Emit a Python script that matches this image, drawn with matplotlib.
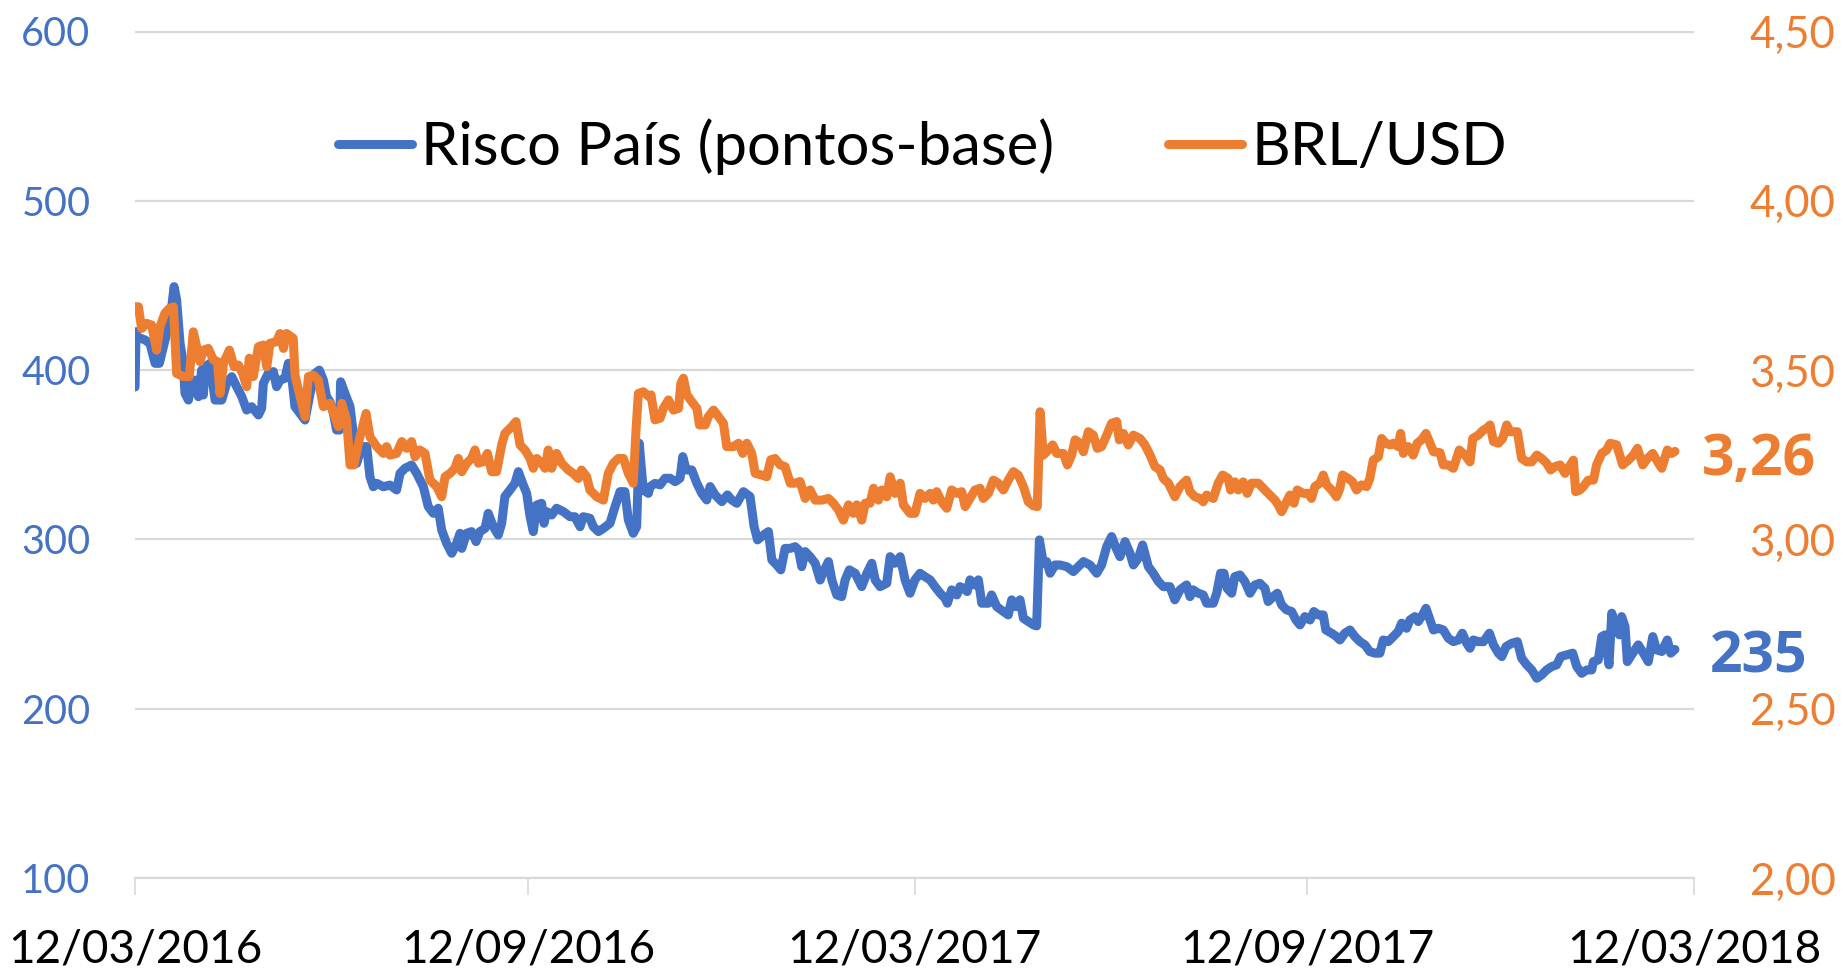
import matplotlib
matplotlib.use("Agg")
import matplotlib.pyplot as plt
import matplotlib.dates as mdates
from matplotlib.ticker import FuncFormatter
import numpy as np
import pandas as pd

plt.rcParams['font.family'] = ['Lato', 'DejaVu Sans']

START = '2016-03-12'

# Risco País (pontos-base): days since START, value
risco_days = [0, 0.5, 0.8, 4.7, 7.0, 9.4, 11.4, 13.3, 15.6, 17.2, 18.3, 19.5, 21.1, 22.6, 23.4, 25.0, 26.5, 28.1,
              29.7, 31.2, 32.0, 32.8, 35.1, 37.5, 40.6, 42.9, 45.3, 47.6, 50.0, 52.3, 54.6, 57.8, 59.3, 60.1,
              62.4, 64.8, 66.3, 67.9, 70.2, 71.8, 73.4, 74.9, 77.3, 79.6, 82.0, 84.3, 86.3, 88.2, 89.7, 91.3,
              92.9, 94.4, 95.7, 96.3, 98.3, 100.7, 102.2, 103.8, 106.1, 108.5, 110.0, 111.6, 113.2, 116.3,
              119.4, 122.5, 124.1, 126.4, 129.5, 131.9, 135.0, 137.3, 139.7, 142.0, 143.6, 145.9, 148.3, 150.6,
              152.2, 153.0, 155.3, 157.6, 159.7, 161.5, 163.9, 165.4, 167.8, 170.1, 171.7, 173.2, 175.6, 177.9,
              179.5, 181.5, 183.4, 185.0, 186.5, 188.1, 190.4, 191.5, 192.8, 195.1, 197.4, 200.6, 203.7, 206.0,
              208.4, 209.9, 213.0, 214.6, 217.0, 219.3, 222.4, 224.8, 227.1, 229.4, 231.0, 233.3, 234.9, 236.1,
              238.0, 240.4,
              241.2, 243.5, 245.9, 248.2, 250.6, 252.9, 255.2, 256.5, 258.1, 260.7, 263.1, 265.4, 267.7, 269.3,
              271.6, 274.8, 277.4, 279.4, 281.8, 284.9, 288.0, 289.9, 291.5, 294.3, 296.6, 298.2, 300.5, 302.4,
              304.4, 306.8, 309.1, 310.7, 312.2, 313.8, 316.1, 318.5, 320.8, 322.4, 324.7, 326.3, 328.6, 330.9,
              332.5, 334.5, 337.2, 340.3, 342.7, 345.0, 346.6, 348.9, 352.0, 353.6, 355.9, 358.3, 360.6,
              362.9, 365.2, 367.6, 369.9, 372.3, 374.6, 377.0, 379.3, 380.4, 382.4, 384.8, 386.3, 387.9, 389.7,
              391.0, 393.3, 394.9, 396.5, 399.6, 401.1, 403.5, 406.6, 408.9, 410.5, 412.5, 414.4, 416.0, 418.3,
              420.7, 422.2, 423.5, 425.3, 426.9, 428.5, 430.8, 433.1, 436.3, 439.4, 441.7, 444.1, 447.2, 450.3,
              452.6, 455.0, 457.3, 459.4, 461.2, 463.6, 465.9, 467.5, 469.8, 471.8, 474.5, 476.8, 479.2, 481.5,
              484.6, 486.9, 489.3, 492.4, 494.0, 495.5, 497.9, 500.2, 501.8, 504.9, 506.5, 508.3, 509.9, 511.4,
              513.5, 515.0, 517.4, 519.7, 522.1, 524.4, 526.7, 529.1, 530.6, 533.0, 534.9, 536.9, 539.2, 541.6,
              543.6, 545.5, 547.8, 550.2, 552.0, 554.1, 556.4, 557.6, 560.3, 562.6, 564.2, 566.5, 568.9, 571.2,
              573.6, 575.9, 578.2, 580.6, 582.9, 584.5, 586.8, 589.2, 591.5, 593.1, 595.4, 597.0, 599.3, 600.9,
              602.9, 604.5,
              608.0, 610.3, 612.6, 615.0, 617.3, 619.7, 621.5, 623.6, 625.1, 626.7, 629.0, 631.4, 634.2, 636.1,
              638.4, 640.0, 642.0, 644.6, 647.3, 649.3, 651.7, 654.0, 656.4, 658.7, 661.0, 663.4, 665.7, 667.6,
              670.4, 673.2, 675.1, 677.4, 679.8, 682.1, 682.9, 685.2, 686.8, 688.3, 690.2, 691.5, 693.0, 695.1,
              696.1, 697.7, 698.8, 700.8, 703.9, 706.3, 708.6, 710.7, 712.5, 714.9, 717.5, 719.1, 721.1]
risco_vals = [390, 422.7, 419.7, 417.8, 415.8, 404, 404, 413.8, 425.6, 437.4, 449.3, 441.4, 415.8, 404, 386.3, 382.3,
              392.2, 394.1, 384.3, 400, 385.3, 402, 404, 382.3, 382.3, 392.2, 396.1, 390.2, 384.3, 376.4, 378.4,
              373.5, 377.4, 392.2, 398.1, 399.1, 390.2, 394.1, 395.1, 404, 396.1, 378.4, 374.4, 370.5, 386.3,
              398.1, 400, 394.1, 384.3, 381.3, 374.4, 364.6, 364.6, 393.1, 386.3, 378.4, 362.6, 344.9, 354.8,
              354.8, 337, 331.1, 333.1, 331.1,
              332.1, 329.2, 339.0, 342.0, 343.9, 339.0, 331.2, 319.4, 315.4, 318.4, 305.6, 297.7, 291.8, 297.7,
              303.6, 294.7, 303.6, 304.6, 298.7, 304.6, 306.5, 315.4, 307.5, 302.6, 309.5, 325.3, 329.2, 333.1,
              340.0, 333.1, 327.2, 313.4, 304.6, 320.3, 321.3, 309.5, 316.4, 314.4, 318.4, 316.4, 313.4, 313.4,
              307.5, 313.4, 312.5, 307.5, 304.6, 306.5, 309.5, 319.4, 328.2, 328.2, 311.5, 303.6, 307.5, 356.8,
              329.2, 327.2,
              331.2, 333.1, 332.2, 336.1, 336.1, 334.1, 336.1, 348.9, 341.0, 341.0, 333.1, 327.2, 323.3, 331.2,
              326.3, 322.3, 326.3, 323.3, 321.3, 328.2, 325.3, 307.5, 299.7, 302.6, 304.6, 287.9, 284.9, 282.0,
              294.7, 294.7, 295.7, 293.8, 283.9, 292.8, 289.8, 285.9, 276.0, 281.0, 286.9, 276.0, 267.2, 266.2,
              276.0, 282.0, 280.0, 272.1, 280.0, 285.9, 276.0, 272.1, 274.1, 289.8, 285.9, 289.8, 276.0,
              268.2, 276.1, 280.0, 278.0, 276.1, 272.1, 268.2, 265.2, 262.3, 270.2, 267.2, 272.1, 271.1, 269.2,
              276.1, 273.1, 276.1, 262.3, 262.3, 267.2, 260.3, 257.4, 255.4, 264.3, 260.3, 264.3, 253.4, 251.5,
              249.5, 248.9, 299.7, 285.9, 286.9, 280.0, 284.9, 284.9, 283.9, 281.0, 283.9, 286.9, 284.9, 280.0,
              284.9, 295.8, 301.7, 294.8, 289.8, 298.7, 291.8, 284.9, 288.9, 296.7, 283.9, 280.0, 275.1, 272.1,
              272.1, 264.3, 270.2, 273.1, 266.2, 270.2, 268.2, 267.2, 262.3, 262.3, 268.2, 280.0, 280.0, 271.1,
              268.2, 278.0, 279.0, 275.1, 268.2, 273.1, 274.1, 271.1, 263.3, 266.2, 268.2, 261.3, 258.4, 257.4,
              252.4, 249.5, 254.4, 252.4, 257.4, 255.4, 255.4, 246.5, 244.6, 242.6, 240.6, 244.6, 246.5, 242.6,
              239.6, 237.7, 233.7, 232.8, 232.8, 240.6, 239.6, 242.6, 245.6, 250.5, 247.5, 252.4, 254.4, 251.5,
              255.4, 259.3,
              246.5, 247.5, 246.5, 241.6, 239.6, 240.6, 244.6, 238.6, 235.7, 240.6, 239.6, 239.6, 244.6, 237.7,
              232.8, 230.8, 236.7, 238.6, 239.6, 229.8, 225.9, 222.9, 218.0, 220.0, 222.9, 224.9, 225.9, 230.8,
              231.8, 232.8, 224.9, 220.9, 222.9, 222.9, 227.8, 228.8, 242.6, 243.6, 225.9, 256.4, 248.5, 243.6,
              254.4, 248.5, 227.8, 231.8, 237.7, 232.8, 227.8, 242.6, 234.7, 233.8, 240.6, 232.8, 235]

# BRL/USD: days since START, value
brl_days = [0, 1.6, 3.1, 5.5, 7.8, 10.1, 11.7, 14.0, 16.1, 18.0, 19.5, 22.6, 25.4, 27.3, 28.9, 30.4, 32.0, 34.3,
            36.7, 38.6, 39.8, 41.4, 44.2, 46.4, 48.4, 50.4, 52.3, 53.5, 55.4, 57.8, 60.1, 61.7, 63.2, 66.3, 67.9,
            69.5, 71.0, 74.1, 74.9, 77.3, 79.6, 81.2, 83.5, 85.8, 88.2, 91.3, 93.6, 95.2, 96.8, 99.1, 100.7,
            102.5, 105.3, 108.2, 110.0, 113.2, 116.3, 117.8,
            119.4, 122.5, 124.9, 127.2, 129.5, 131.1, 133.4, 135.8, 138.1, 141.3, 143.6, 145.2, 147.5, 149.8,
            151.4, 153.0, 155.3, 157.6, 159.2, 160.8, 163.1, 165.0, 167.0, 169.3, 171.7, 173.2, 176.4, 178.4,
            180.3, 182.6, 185.0, 186.5, 188.1, 190.4, 192.0, 193.5, 195.1, 197.4, 199.8, 202.9, 205.2, 207.6,
            209.1, 211.5, 213.0, 216.2, 219.3, 221.6, 224.0, 226.3, 228.7, 231.0, 233.3, 234.6, 235.7, 238.0,
            240.8,
            241.6, 243.5, 245.9, 247.4, 249.8, 252.1, 254.5, 255.6, 256.8, 258.4, 260.7, 263.1, 264.3, 267.0,
            268.5, 270.9, 273.2, 275.5, 277.1, 280.2, 282.6, 284.6, 286.5, 288.8, 290.4, 293.5, 295.8, 297.7,
            299.7, 302.1, 304.4, 306.8, 309.1, 311.4, 313.8, 316.1, 318.5, 321.6, 324.7, 327.0, 329.4, 331.7,
            334.1, 336.4, 338.0, 340.3, 341.9, 344.2, 345.8, 348.1, 349.7, 352.0, 353.6, 355.9, 358.3, 359.8,
            362.9, 365.2, 367.6, 369.9, 372.3, 373.8, 375.4, 377.7, 380.1, 382.4, 384.8, 387.1, 388.7, 391.0,
            393.3, 395.7, 397.2, 399.6, 401.9, 404.3, 406.6, 408.9, 411.3, 413.6, 416.0, 418.3, 420.7, 422.5,
            423.8, 425.3, 427.7, 429.7, 431.6, 434.7, 436.6, 438.6, 440.2, 442.5, 444.1, 446.4, 448.7, 450.6,
            452.6, 455.0, 457.3, 459.7, 460.9, 462.8, 465.1, 467.5, 470.6, 472.9, 475.3, 477.6, 480.0, 481.5,
            483.9,
            486.9, 489.3, 492.4, 494.0, 496.3, 498.6, 500.2, 501.8, 504.9, 507.2, 509.3, 511.9, 513.0, 515.0,
            516.6, 518.9, 520.8, 522.8, 526.0, 528.3, 530.6, 533.8, 535.3, 536.9, 538.9, 540.8, 542.7, 544.2,
            547.0, 549.4, 550.9, 552.5, 554.8, 556.4, 558.0, 560.3, 562.6, 564.2, 565.4, 568.1, 570.1, 572.0,
            574.3, 576.7, 578.2, 579.8, 582.2, 583.7, 585.7, 587.6, 589.2, 591.5, 592.6, 593.9, 596.2, 598.5,
            600.4, 602.4, 604.5,
            608.0, 611.1, 612.6, 615.0, 617.3, 620.1, 622.8, 625.1, 626.4, 629.0, 631.4, 632.9, 634.5, 636.1,
            638.4, 640.4, 642.3, 643.9, 647.3, 649.3, 651.7, 654.0, 656.4, 658.7, 661.0, 662.9, 664.9, 667.3,
            669.6, 671.6, 673.5, 674.6, 676.6, 678.2, 680.5, 682.9, 684.4, 686.8, 689.1, 690.7, 693.8, 696.6,
            699.3, 701.6, 703.5, 706.0, 708.2, 710.7, 712.5, 714.9, 717.5, 719.6, 721.1]
brl_vals = [3.687, 3.687, 3.623, 3.638, 3.633, 3.559, 3.628, 3.668, 3.682, 3.687, 3.490, 3.481, 3.481, 3.613, 3.569,
            3.525, 3.559, 3.564, 3.530, 3.525, 3.431, 3.520, 3.559, 3.510, 3.515, 3.490, 3.451, 3.535, 3.481,
            3.569, 3.574, 3.510, 3.579, 3.584, 3.608, 3.564, 3.608, 3.594, 3.485, 3.422, 3.362, 3.481, 3.485,
            3.471, 3.392, 3.402, 3.362, 3.333, 3.402, 3.353, 3.220, 3.220, 3.303, 3.372, 3.303, 3.274, 3.254,
            3.274,
            3.249, 3.254, 3.289, 3.269, 3.289, 3.244, 3.264, 3.254, 3.175, 3.156, 3.126, 3.185, 3.195, 3.210,
            3.239, 3.200, 3.225, 3.239, 3.264, 3.225, 3.230, 3.254, 3.200, 3.200, 3.279, 3.313, 3.333, 3.348,
            3.279, 3.264, 3.239, 3.210, 3.239, 3.225, 3.210, 3.264, 3.210, 3.254, 3.225, 3.205, 3.195, 3.180,
            3.205, 3.185, 3.146, 3.126, 3.116, 3.195, 3.225, 3.239, 3.239, 3.195, 3.166, 3.323, 3.431, 3.436,
            3.421,
            3.427, 3.353, 3.358, 3.387, 3.412, 3.382, 3.387, 3.461, 3.476, 3.427, 3.407, 3.387, 3.338, 3.338,
            3.363, 3.382, 3.363, 3.343, 3.274, 3.274, 3.284, 3.254, 3.284, 3.254, 3.195, 3.190, 3.185, 3.235,
            3.239, 3.220, 3.215, 3.166, 3.166, 3.171, 3.121, 3.146, 3.116, 3.116, 3.121, 3.107, 3.087, 3.057,
            3.102, 3.077, 3.102, 3.057, 3.107, 3.107, 3.151, 3.116, 3.146, 3.126, 3.185, 3.136, 3.166, 3.102,
            3.077, 3.077, 3.136, 3.121, 3.136, 3.116, 3.141, 3.111, 3.092, 3.146, 3.136, 3.141, 3.097, 3.121,
            3.146, 3.151, 3.121, 3.136, 3.175, 3.166, 3.146, 3.175, 3.200, 3.190, 3.156, 3.111, 3.099, 3.097,
            3.377, 3.249, 3.264, 3.279, 3.254, 3.254, 3.220, 3.249, 3.294, 3.284, 3.259, 3.318, 3.308, 3.269,
            3.274, 3.308, 3.343, 3.348, 3.294, 3.313, 3.279, 3.308, 3.298, 3.279, 3.249, 3.215, 3.205, 3.180,
            3.166,
            3.126, 3.156, 3.175, 3.141, 3.126, 3.121, 3.111, 3.131, 3.121, 3.166, 3.190, 3.180, 3.146, 3.170,
            3.146, 3.170, 3.136, 3.166, 3.166, 3.151, 3.136, 3.116, 3.102, 3.082, 3.107, 3.131, 3.107, 3.146,
            3.136, 3.136, 3.121, 3.156, 3.166, 3.190, 3.161, 3.146, 3.126, 3.151, 3.190, 3.180, 3.170, 3.146,
            3.161, 3.156, 3.180, 3.234, 3.244, 3.298, 3.284, 3.279, 3.284, 3.274, 3.313, 3.254, 3.274, 3.249,
            3.284, 3.294, 3.313,
            3.259, 3.256, 3.220, 3.220, 3.210, 3.264, 3.249, 3.229, 3.298, 3.308, 3.323, 3.328, 3.338, 3.289,
            3.284, 3.298, 3.338, 3.318, 3.318, 3.239, 3.229, 3.229, 3.249, 3.239, 3.225, 3.205, 3.215, 3.220,
            3.195, 3.215, 3.234, 3.141, 3.146, 3.156, 3.175, 3.175, 3.220, 3.254, 3.264, 3.284, 3.279, 3.220,
            3.234, 3.249, 3.269, 3.220, 3.239, 3.254, 3.234, 3.210, 3.264, 3.254, 3.26]

x_tick_dates = ['2016-03-12', '2016-09-12', '2017-03-12', '2017-09-12', '2018-03-12']
left_ticks = [100, 200, 300, 400, 500, 600]
right_ticks = [2.0, 2.5, 3.0, 3.5, 4.0, 4.5]
label_risco = 'Risco País (pontos-base)'
label_brl = 'BRL/USD'

BLUE = '#4472C4'
ORANGE = '#ED7D31'
GRID = '#D9D9D9'

fig = plt.figure(figsize=(18.43, 9.72), dpi=100)
ax = fig.add_axes([135 / 1843, 1 - 878 / 972, (1694 - 135) / 1843, (878 - 31.5) / 972])
ax2 = ax.twinx()

t0 = pd.Timestamp(START)
dates_r = t0 + pd.to_timedelta(risco_days, unit='D')
dates_b = t0 + pd.to_timedelta(brl_days, unit='D')

l1, = ax.plot(dates_r, risco_vals, color=BLUE, lw=6.5, solid_joinstyle='round',
              solid_capstyle='round', label=label_risco)
l2, = ax2.plot(dates_b, brl_vals, color=ORANGE, lw=6.5, solid_joinstyle='round',
               solid_capstyle='round', label=label_brl)

ax.set_xlim(pd.Timestamp(x_tick_dates[0]), pd.Timestamp(x_tick_dates[-1]))
ax.set_ylim(left_ticks[0], left_ticks[-1])
ax2.set_ylim(right_ticks[0], right_ticks[-1])

ax.set_xticks(pd.to_datetime(x_tick_dates))
ax.xaxis.set_major_formatter(mdates.DateFormatter('%d/%m/%Y'))
ax.set_yticks(left_ticks)
ax2.set_yticks(right_ticks)
ax2.yaxis.set_major_formatter(FuncFormatter(lambda v, p: f'{v:.2f}'.replace('.', ',')))

ax.set_axisbelow(True)
ax.grid(axis='y', color=GRID, lw=1.6)
for s in ['top', 'right', 'left']:
    ax.spines[s].set_visible(False)
for s in ax2.spines.values():
    s.set_visible(False)
ax.spines['bottom'].set_color(GRID)
ax.spines['bottom'].set_linewidth(1.6)

ax.tick_params(axis='x', length=12, width=1.2, color=GRID, labelsize=33, pad=24, labelcolor='black')
ax.tick_params(axis='y', length=0, labelsize=28.5, labelcolor=BLUE, pad=32)
ax2.tick_params(axis='y', length=0, labelsize=31.5, labelcolor=ORANGE, pad=40)

leg = ax.legend(handles=[l1, l2], loc='center', bbox_to_anchor=(0.505, 0.864), ncol=2, frameon=False,
                fontsize=43, handlelength=1.25, handletextpad=0.15, columnspacing=1.9)

ann_font = ['Open Sans', 'DejaVu Sans']
ax2.annotate(f'{brl_vals[-1]:.2f}'.replace('.', ','), xy=(dates_b[-1], brl_vals[-1]),
             xytext=(19, -6), textcoords='offset points', va='center', ha='left',
             fontsize=41, fontweight='bold', family=ann_font, color=ORANGE, annotation_clip=False)
ax.annotate(f'{risco_vals[-1]:.0f}', xy=(dates_r[-1], risco_vals[-1]),
            xytext=(25, -6), textcoords='offset points', va='center', ha='left',
            fontsize=41, fontweight='bold', family=ann_font, color=BLUE, annotation_clip=False)

fig.savefig('out.png', dpi=100)
